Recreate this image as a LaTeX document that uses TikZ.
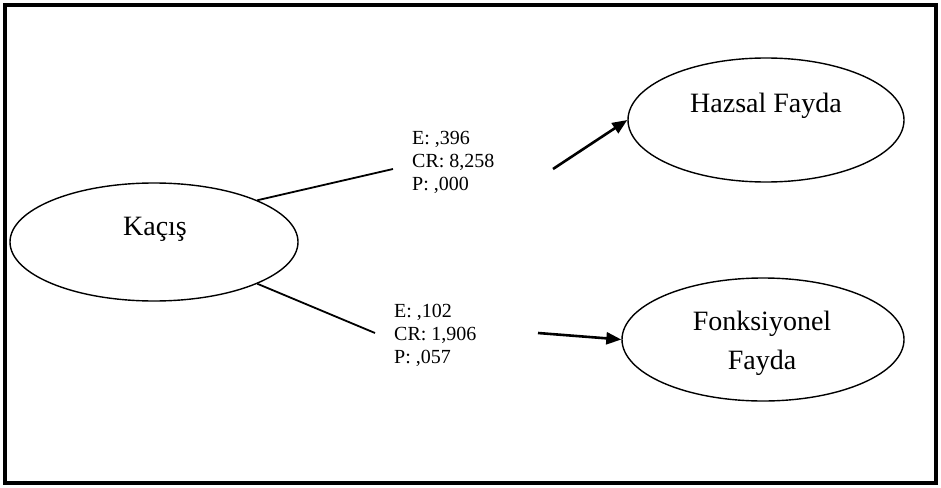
\documentclass[tikz,border=0pt]{standalone}
\usepackage{fontspec}
\setmainfont{Liberation Serif}
\usetikzlibrary{arrows.meta,shapes.geometric}
\begin{document}
\begin{tikzpicture}[x=1pt,y=-1pt,
  construct/.style={draw,ellipse,line width=1.4pt,inner sep=0pt},
  nodetext/.style={anchor=base,inner sep=0pt,font=\fontsize{28}{39}\selectfont,align=center},
  stats/.style={anchor=base west,inner sep=0pt,font=\fontsize{20}{23}\selectfont,align=left},
  path/.style={line width=1.8pt},
  effect/.style={line width=2.6pt,-{Triangle[length=15pt,width=12pt]}}]
\useasboundingbox (0,0) rectangle (941,487);
% outer frame
\draw[line width=3.5pt] (5,5) rectangle (936,483);
% latent constructs
\node[construct,minimum width=288pt,minimum height=118pt] (kacis) at (154,242) {};
\node[construct,minimum width=276pt,minimum height=124pt] (hazsal) at (766,120) {};
\node[construct,minimum width=282pt,minimum height=123pt] (fonk) at (763,339.5) {};
% construct names (base anchor sits on the last line)
\node[nodetext] (kacisT) at (155,235) {Kaçış};
\node[nodetext] (hazsalT) at (766,112) {Hazsal Fayda};
\node[nodetext] (fonkT) at (762,369) {Fonksiyonel\\Fayda};
% path estimates
\node[stats] (s1) at (412,190) {E: ,396\\CR: 8,258\\P: ,000};
\node[stats] (s2) at (394,363) {E: ,102\\CR: 1,906\\P: ,057};
% connector ends beside the estimates
\coordinate (a1) at (393,169);
\coordinate (b1) at (553,169);
\coordinate (a2) at (375,333);
\coordinate (b2) at (538,333);
\draw[path] (kacis.22) -- (a1);
\draw[effect] (b1) -- (hazsal.west);
\draw[path] (kacis.-22) -- (a2);
\draw[effect] (b2) -- (fonk.west);
\end{tikzpicture}
\end{document}
